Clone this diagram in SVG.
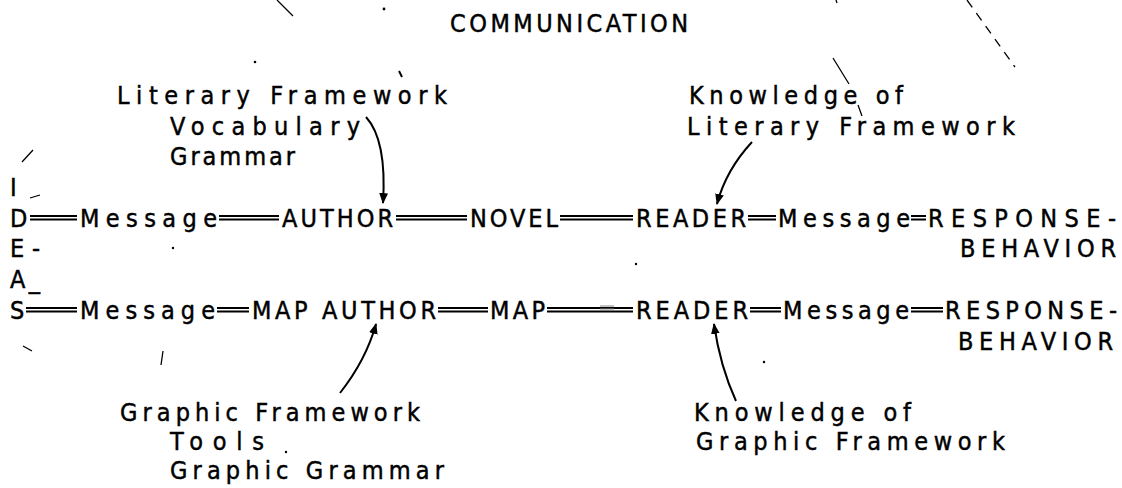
<svg xmlns="http://www.w3.org/2000/svg" width="1122" height="488" viewBox="0 0 1122 488">
<defs>
<marker id="ah" viewBox="0 0 10 10" refX="9" refY="5" markerWidth="11" markerHeight="11" markerUnits="userSpaceOnUse" orient="auto">
<path d="M0,1 L10,5 L0,9 Z" fill="#000"/>
</marker>
</defs>
<style>
text{font-family:"DejaVu Sans Condensed","DejaVu Sans","Liberation Sans",sans-serif;font-size:25px;fill:#000;stroke:#000;stroke-width:0.45}
.dl{stroke:#000;stroke-width:1.8;fill:none}
.ar{stroke:#000;stroke-width:2;fill:none;marker-end:url(#ah)}
.sp{stroke:#000;stroke-width:1.3;fill:none}
</style>
<rect width="1122" height="488" fill="#fff"/>
<g id="title"><text x="450" y="32" textLength="238" lengthAdjust="spacing">COMMUNICATION</text></g>
<g id="literary-framework">
<text x="117" y="104" textLength="330" lengthAdjust="spacing">Literary Framework</text>
<text x="170" y="135" textLength="190" lengthAdjust="spacing">Vocabulary</text>
<text x="170" y="165" textLength="125" lengthAdjust="spacing">Grammar</text>
</g>
<g id="knowledge-literary">
<text x="689" y="104" textLength="214" lengthAdjust="spacing">Knowledge of</text>
<text x="687" y="135" textLength="328" lengthAdjust="spacing">Literary Framework</text>
</g>
<g id="ideas">
<text x="10" y="196">I</text>
<text x="10" y="227">D</text>
<text x="10" y="257" textLength="30" lengthAdjust="spacing">E -</text>
<text x="10" y="288" textLength="30" lengthAdjust="spacing">A _</text>
<text x="10" y="319">S</text>
</g>
<g id="row1-message"><text x="80" y="227" textLength="137" lengthAdjust="spacing">Message</text></g>
<g id="row1-author"><text x="282" y="227" textLength="111" lengthAdjust="spacing">AUTHOR</text></g>
<g id="row1-novel"><text x="470" y="227" textLength="88" lengthAdjust="spacing">NOVEL</text></g>
<g id="row1-reader"><text x="636" y="227" textLength="110" lengthAdjust="spacing">READER</text></g>
<g id="row1-message2"><text x="778" y="227" textLength="132" lengthAdjust="spacing">Message</text></g>
<g id="row1-response">
<text x="928" y="227" textLength="188" lengthAdjust="spacing">RESPONSE-</text>
<text x="960" y="257" textLength="156" lengthAdjust="spacing">BEHAVIOR</text>
</g>
<g id="row2-message"><text x="80" y="319" textLength="135" lengthAdjust="spacing">Message</text></g>
<g id="row2-mapauthor"><text x="252" y="319" textLength="184" lengthAdjust="spacing">MAP AUTHOR</text></g>
<g id="row2-map"><text x="490" y="319" textLength="55" lengthAdjust="spacing">MAP</text></g>
<g id="row2-reader"><text x="636" y="319" textLength="112" lengthAdjust="spacing">READER</text></g>
<g id="row2-message2"><text x="783" y="319" textLength="126" lengthAdjust="spacing">Message</text></g>
<g id="row2-response">
<text x="945" y="319" textLength="172" lengthAdjust="spacing">RESPONSE-</text>
<text x="958" y="350" textLength="155" lengthAdjust="spacing">BEHAVIOR</text>
</g>
<g id="graphic-framework">
<text x="120" y="421" textLength="300" lengthAdjust="spacing">Graphic Framework</text>
<text x="170" y="450" textLength="94" lengthAdjust="spacing">Tools</text>
<text x="170" y="479" textLength="274" lengthAdjust="spacing">Graphic Grammar</text>
</g>
<g id="knowledge-graphic">
<text x="694" y="421" textLength="217" lengthAdjust="spacing">Knowledge of</text>
<text x="696" y="450" textLength="309" lengthAdjust="spacing">Graphic Framework</text>
</g>
<g id="connectors">
<path class="dl" d="M30,216H77M30,219.5H77 M219,216H279M219,219.5H279 M396,216H467M396,219.5H467 M560,216H633M560,219.5H633 M748,216H776M748,219.5H776 M911,216H926M911,219.5H926"/>
<path class="dl" d="M26,308H77M26,311.5H77 M217,308H249M217,311.5H249 M438,308H488M438,311.5H488 M547,308H633M547,311.5H633 M750,308H781M750,311.5H781 M911,308H943M911,311.5H943"/>
<path class="ar" d="M366,117 Q387,140 383,203"/>
<path class="ar" d="M752,142 Q726,170 717,204"/>
<path class="ar" d="M340,393 Q366,360 376,324"/>
<path class="ar" d="M736,401 Q720,366 714,324"/>
</g>
<g id="specks">
<path class="sp" d="M277,0 L293,16 M22,162 L33,150 M30,198 L40,195 M23,346 L32,351 M163,351 L161,365 M833,58 L849,84 M858,105 L862,116 M836,0 L837,3"/>
<path class="sp" stroke-dasharray="9 7" d="M967,0 L1015,67"/>
<path d="M600,306 h14 M600,309 h14" stroke="#888" stroke-width="1.2"/>
<circle cx="384" cy="9" r="1.4"/>
<circle cx="255" cy="62" r="1.3"/>
<path d="M399,71 L402,77" stroke="#000" stroke-width="2"/>
<circle cx="173" cy="248" r="1.2"/>
<circle cx="636" cy="264" r="1.2"/>
<circle cx="764" cy="362" r="1.2"/>
<circle cx="286" cy="452" r="1.2"/>
</g>
</svg>
